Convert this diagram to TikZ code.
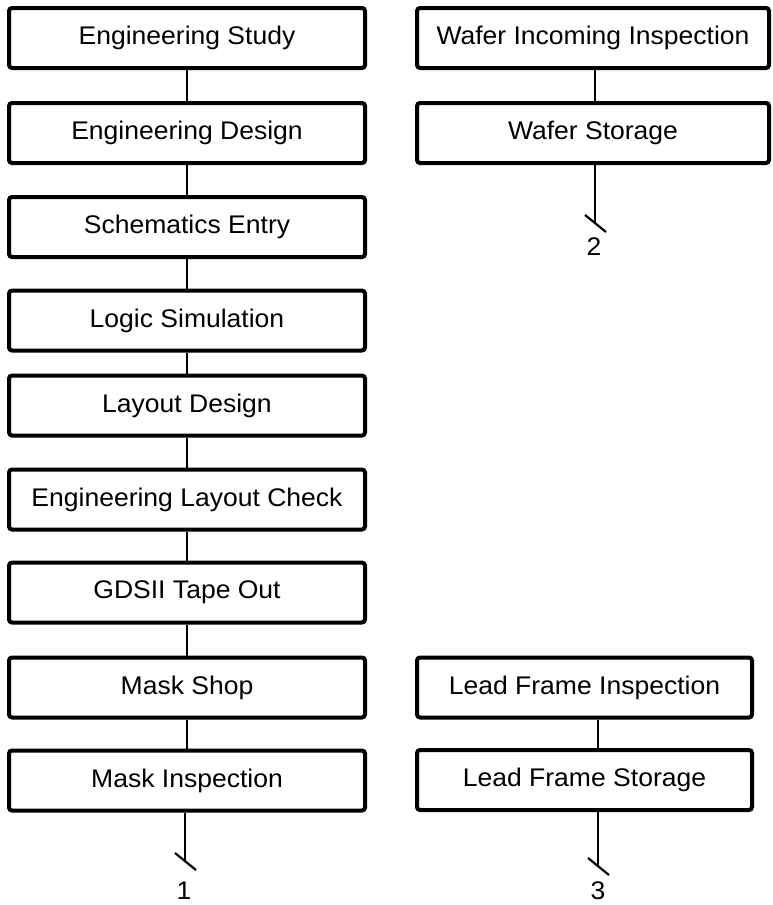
\documentclass[tikz,border=0pt]{standalone}
\usepackage{fontspec}
\setmainfont[FakeStretch=1.04]{Liberation Sans}
\usetikzlibrary{positioning}

\begin{document}
\begin{tikzpicture}[x=1pt, y=-1pt, font=\fontsize{25.5}{30}\selectfont,
    stage/.style={draw, line width=4pt, rounded corners=3pt, minimum height=60pt, inner sep=2pt},
    link/.style={line width=2.2pt}]
    \useasboundingbox (0,0) rectangle (772,905);
    % design flow
    \foreach \i/\y/\t in {1/38/Engineering Study, 2/133/Engineering Design,
        3/227/Schematics Entry, 4/320.5/Logic Simulation, 5/405.5/Layout Design,
        6/499.5/Engineering Layout Check, 7/592.5/GDSII Tape Out,
        8/687.5/Mask Shop, 9/780.5/Mask Inspection} {
      \node[stage, minimum width=356pt] (s\i) at (187,\y) {\t};
    }
    \foreach \a/\b in {1/2, 2/3, 3/4, 4/5, 5/6, 6/7, 7/8, 8/9} {
      \draw[link] (s\a.south) -- (s\b.north);
    }
    % incoming material
    \node[stage, minimum width=352pt] (w1) at (593,38) {Wafer Incoming Inspection};
    \node[stage, minimum width=352pt] (w2) at (593,133) {Wafer Storage};
    \node[stage, minimum width=335pt] (f1) at (584.5,687.5) {Lead Frame Inspection};
    \node[stage, minimum width=335pt] (f2) at (584.5,780) {Lead Frame Storage};
    % off-page ends
    \coordinate (t1) at (185,860);
    \coordinate (t2) at (595,222);
    \coordinate (t3) at (598,865);
    \draw[link] (w1.south -| t2) -- (w2.north -| t2);
    \draw[link] (f1.south -| t3) -- (f2.north -| t3);
    \draw[link] (s9.south -| t1) -- (t1);
    \draw[link] (w2.south -| t2) -- (t2);
    \draw[link] (f2.south -| t3) -- (t3);
    \foreach \k in {1,2,3} {
      \draw[link] ([shift={(-10,-7)}]t\k) -- ([shift={(11,10)}]t\k);
    }
    \node[inner sep=1pt] (n1) at (184,891) {1};
    \node[inner sep=1pt] (n2) at (594,247) {2};
    \node[inner sep=1pt] (n3) at (598,891) {3};
\end{tikzpicture}
\end{document}
